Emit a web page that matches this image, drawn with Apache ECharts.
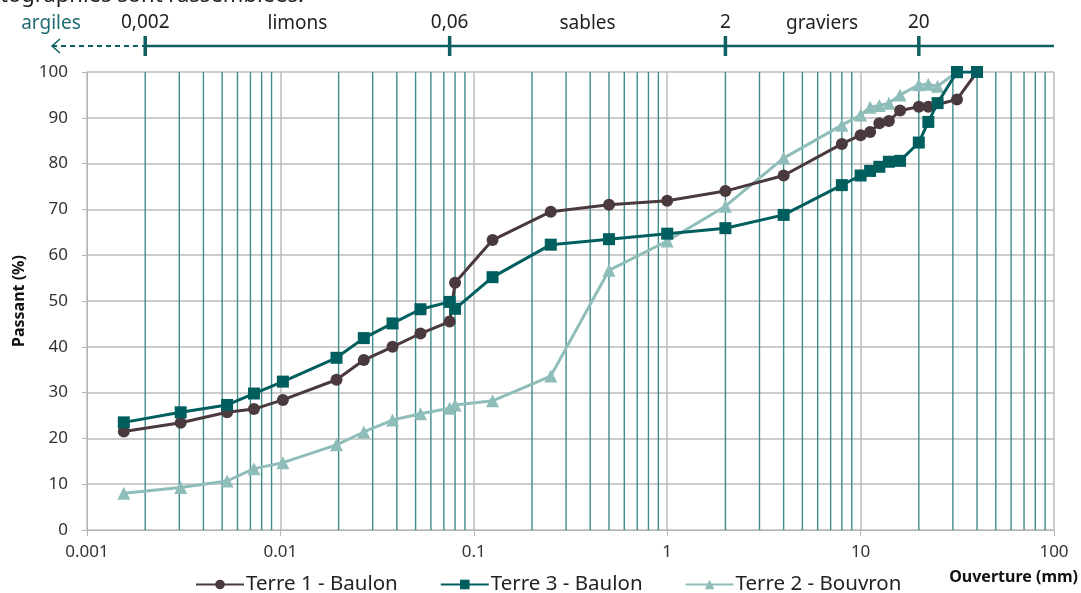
<!DOCTYPE html>
<html><head><meta charset="utf-8">
<script src="https://cdn.jsdelivr.net/npm/echarts@6/dist/echarts.min.js"></script>
<style>html,body{margin:0;padding:0;background:#fff}#c{width:1081px;height:593px}</style>
</head><body><div id="c"></div>
<script>
// ---- data ----
const sizes1 = [0.00155,0.00305,0.0053,0.0073,0.0103,0.0195,0.027,0.038,0.053,0.075,0.08,0.125,0.25,0.5,1,2,4,8,10,11.2,12.5,14,16,20,22.4,31.5,40];
const terre1 = [21.5,23.4,25.7,26.4,28.4,32.8,37.1,40.0,42.9,45.5,54.0,63.3,69.5,71.0,71.9,74.0,77.4,84.3,86.2,86.9,88.8,89.3,91.6,92.4,92.4,94.0,100];
const sizes3 = [0.00155,0.00305,0.0053,0.0073,0.0103,0.0195,0.027,0.038,0.053,0.075,0.08,0.125,0.25,0.5,1,2,4,8,10,11.2,12.5,14,16,20,22.4,25,31.5,40];
const terre3 = [23.5,25.7,27.3,29.8,32.4,37.6,41.9,45.1,48.2,49.8,48.3,55.2,62.3,63.5,64.7,65.9,68.8,75.3,77.4,78.4,79.3,80.4,80.6,84.6,89.1,93.2,100,100];
const sizes2 = [0.00155,0.00305,0.0053,0.0073,0.0103,0.0195,0.027,0.038,0.053,0.075,0.08,0.125,0.25,0.5,1,2,4,8,10,11.2,12.5,14,16,20,22.4,25,31.5];
const terre2 = [8.0,9.3,10.7,13.4,14.7,18.6,21.4,24.0,25.4,26.6,27.3,28.2,33.6,56.7,63.1,70.7,81.2,88.4,90.6,92.3,92.7,93.2,95.0,97.2,97.3,96.9,100];
const seriesNames = ['Terre 1 - Baulon','Terre 3 - Baulon','Terre 2 - Bouvron'];
const xTickLabels = {'0.001':'0.001','0.01':'0.01','0.1':'0.1','1':'1','10':'10','100':'100'};
const decades = [0.001,0.01,0.1,1,10];
const minorMultipliers = [2,3,4,5,6,7,8,9];
const classBounds = [0.002,0.075,2,20];
const classBoundLabels = ['0,002','0,06','2','20'];
const classNames = ['limons','sables','graviers'];

const minorLines = [];
decades.forEach(d => minorMultipliers.forEach(m => minorLines.push([+(d*m).toPrecision(3), 0])));

const C1 = '#4b3a3d', C3 = '#005f5e', C2 = '#8fbdba', HDR = '#0d5f61', VL = '#3f8c8a';
const FONT = 'Noto Sans';

const chart = echarts.init(document.getElementById('c'), null, {renderer:'canvas'});
function zip(a,b){return a.map((v,i)=>[v,b[i]]);}

const option = {
  animation:false,
  textStyle:{fontFamily:FONT},
  grid:{left:87,right:27,top:72,bottom:63,containLabel:false},
  xAxis:{type:'log',logBase:10,min:0.001,max:100,
    axisLine:{show:true,onZero:false,lineStyle:{color:'#b5b5b5',width:1}},
    axisTick:{show:true,length:6,lineStyle:{color:'#b5b5b5'}},
    splitLine:{show:true,lineStyle:{color:'#bdbdbd',width:1.5}},
    minorTick:{show:false},minorSplitLine:{show:false},
    axisLabel:{color:'#333',fontSize:17,margin:14,fontFamily:FONT,
      formatter:v=>{const k=String(+v.toPrecision(3));return xTickLabels[k]!==undefined?xTickLabels[k]:k;}}
  },
  yAxis:{type:'value',min:0,max:100,interval:10,
    name:'Passant (%)',nameLocation:'middle',nameGap:60,nameRotate:90,
    nameTextStyle:{fontSize:16,fontWeight:'bold',color:'#111',fontFamily:FONT},
    axisLine:{show:true,lineStyle:{color:'#b5b5b5'}},
    axisTick:{show:true,length:5,lineStyle:{color:'#b5b5b5'}},
    splitLine:{show:true,lineStyle:{color:'#bdbdbd',width:1.5}},
    axisLabel:{color:'#333',fontSize:17,margin:19,fontFamily:FONT}
  },
  legend:{data:seriesNames,left:190,top:569,itemWidth:48,itemHeight:12,itemGap:42,
    textStyle:{fontSize:20.5,color:'#222',fontFamily:FONT,padding:[0,0,0,-3]}},
  series:[
    {type:'custom',name:'sieves',data:minorLines,z:1,silent:true,clip:true,
     encode:{x:0,y:1},
     renderItem:(params,api)=>{
       const v = api.value(0);
       const p0 = api.coord([v,0]);
       const p1 = api.coord([v,100]);
       return {type:'line',shape:{x1:p0[0],y1:p0[1],x2:p0[0],y2:p1[1]},style:{stroke:VL,lineWidth:1.4}};
     }},
    {type:'line',name:seriesNames[0],data:zip(sizes1,terre1),z:3,
     symbol:'circle',symbolSize:12,lineStyle:{color:C1,width:3},itemStyle:{color:C1}},
    {type:'line',name:seriesNames[1],data:zip(sizes3,terre3),z:4,
     symbol:'rect',symbolSize:12,lineStyle:{color:C3,width:3},itemStyle:{color:C3}},
    {type:'line',name:seriesNames[2],data:zip(sizes2,terre2),z:2,
     symbol:'triangle',symbolSize:13,lineStyle:{color:C2,width:3},itemStyle:{color:C2}}
  ]
};
chart.setOption(option);

// ---- header (class boundaries) ----
const px = classBounds.map(v=>chart.convertToPixel({xAxisIndex:0},v));
const xEnd = chart.convertToPixel({xAxisIndex:0},100);
const HY = 46;
const g = [];
g.push({type:'text',left:0,top:-15,style:{text:'tographies sont rassemblées.',fontSize:22,fontFamily:FONT,fill:'#222'}});
g.push({type:'line',shape:{x1:52,y1:HY,x2:px[0],y2:HY},style:{stroke:HDR,lineWidth:2,lineDash:[5,4]}});
g.push({type:'polyline',shape:{points:[[60,HY-7],[52,HY],[60,HY+7]]},style:{stroke:HDR,lineWidth:1.5,fill:null}});
g.push({type:'line',shape:{x1:px[0],y1:HY,x2:xEnd,y2:HY},style:{stroke:HDR,lineWidth:2.5}});
px.forEach((x,i)=>{
  g.push({type:'line',shape:{x1:x,y1:HY-10,x2:x,y2:HY+10},style:{stroke:HDR,lineWidth:3.5}});
  g.push({type:'text',x:x,y:23,style:{text:classBoundLabels[i],fontSize:19,fontFamily:FONT,fill:'#222',align:'center',verticalAlign:'middle'}});
});
for(let i=0;i<classNames.length;i++){
  g.push({type:'text',x:(px[i]+px[i+1])/2,y:24,style:{text:classNames[i],fontSize:19,fontFamily:FONT,fill:'#222',align:'center',verticalAlign:'middle'}});
}
g.push({type:'text',x:51,y:24,style:{text:'argiles',fontSize:19,fontFamily:FONT,fill:'#1f6c70',align:'center',verticalAlign:'middle'}});
g.push({type:'text',x:1078,y:577,style:{text:'Ouverture (mm)',fontSize:16,fontWeight:'bold',fontFamily:FONT,fill:'#111',align:'right',verticalAlign:'middle'}});
chart.setOption({graphic:g});
</script>
</body></html>
